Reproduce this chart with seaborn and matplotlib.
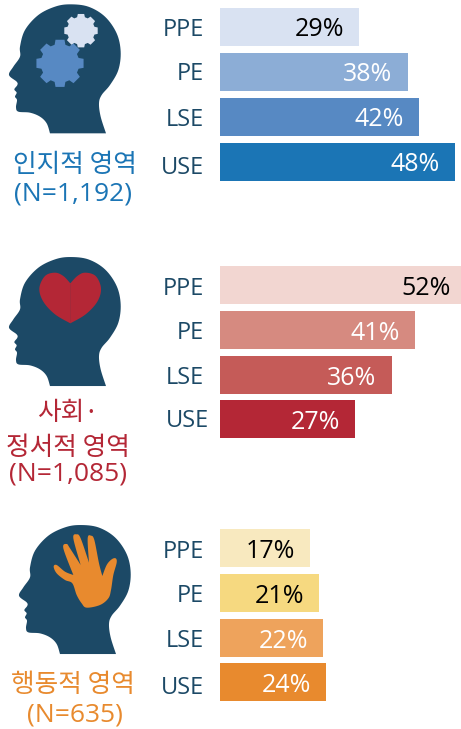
"""Three head icons with horizontal bars per learning-level group."""

import matplotlib

matplotlib.use("Agg")

import matplotlib.pyplot as plt
import numpy as np
import pandas as pd
import seaborn as sns
from matplotlib.patches import Polygon
from matplotlib.transforms import ScaledTranslation

LEVELS = ["PPE", "PE", "LSE", "USE"]

# shown percentages
cognitive_pct = [29, 38, 42, 48]
social_pct = [52, 41, 36, 27]
behavior_pct = [17, 21, 22, 24]

# drawn bar lengths (the bars are not to one scale)
cognitive_len = [139, 188, 199, 235]
social_len = [241, 195, 172, 135]
behavior_len = [90, 99, 103, 106]

BLUES = ["#d9e2f2", "#8cadd6", "#5789c3", "#1b75b5"]
REDS = ["#f2d6d1", "#d68a80", "#c55b58", "#b42736"]
ORANGES = ["#f8e9bf", "#f6d980", "#eea35c", "#e88a2e"]
NAVY = "#1c4966"

W, H = 461, 729
BAR_FONT = "Open Sans"
KR_FONT = "Noto Sans CJK KR"

# icon outlines in 3x crop pixels, a doubled point marks a sharp corner
HEAD = [
    (303, 400), (303, 400), (135, 400), (135, 400),
    (125, 370), (105, 350), (75, 338), (40, 335), (33, 322), (36, 300), (30, 290),
    (35, 278), (28, 268), (37, 255), (35, 245), (12, 225), (25, 200), (45, 170),
    (45, 140), (60, 90), (100, 45), (150, 20), (195, 13), (250, 20), (300, 50),
    (335, 100), (347, 155), (340, 210), (315, 255), (290, 285), (282, 310), (287, 350),
]

HEART = [
    (211, 100), (211, 100), (190, 78), (165, 68), (135, 78), (118, 115), (130, 155), (165, 193),
    (211, 220), (211, 220), (257, 193), (292, 155), (303, 115), (287, 78), (255, 68),
    (232, 78),
]

HAND = [
    (175, 165), (175, 165), (145, 85), (155, 72),
    (165, 85), (197, 135), (197, 135), (175, 55), (185, 43), (197, 55), (222, 128),
    (222, 128), (218, 55), (228, 47), (238, 60), (252, 130), (262, 168), (262, 168),
    (275, 135), (290, 118), (302, 115), (305, 128), (295, 165), (288, 210), (280, 235),
    (255, 255), (215, 263), (200, 250), (185, 225), (172, 190), (150, 180), (125, 160),
    (116, 140), (125, 135), (150, 155),
]


def smooth(points, steps=8):
    """Closed outline, Catmull-Rom between the doubled corner points."""
    pts = [np.array(p, dtype=float) for p in points]
    runs, run = [], [pts[0]]
    for p in pts[2:] + [pts[0]]:
        if np.array_equal(p, run[-1]):
            runs.append(run)
            run = [p]
        else:
            run.append(p)
    runs.append(run)

    out = []
    for run in runs:
        if len(run) < 2:
            continue
        ext = [run[0]] + run + [run[-1]]
        for i in range(1, len(ext) - 2):
            p0, p1, p2, p3 = ext[i - 1], ext[i], ext[i + 1], ext[i + 2]
            for t in np.linspace(0, 1, steps, endpoint=False):
                out.append(0.5 * (2 * p1 + (p2 - p0) * t + (2 * p0 - 5 * p1 + 4 * p2 - p3) * t**2
                                  + (3 * p1 - p0 - 3 * p2 + p3) * t**3))
    return np.array(out)


def gear_points(cx, cy, outer, inner, teeth=8):
    pts = []
    step = 2 * np.pi / teeth
    for i in range(teeth):
        a = i * step
        for off, r in [(-0.36, inner), (-0.24, outer), (0.24, outer), (0.36, inner)]:
            pts.append((cx + r * np.cos(a + off * step), cy + r * np.sin(a + off * step)))
    return np.array(pts)


def to_px(points, x0, y0):
    return points / 3 + np.array([x0, y0])


def draw_bars(fig, top, pitch, lengths, pct, colors, dark_count, shifts):
    height = pitch * 4
    ax = fig.add_axes([220 / W, 1 - (top + height) / H, 241 / W, height / H])
    df = pd.DataFrame({"level": LEVELS, "length": lengths})
    sns.barplot(data=df, y="level", x="length", hue="level", order=LEVELS, hue_order=LEVELS,
                palette=colors, saturation=1, width=38 / pitch, legend=False, linewidth=0, ax=ax)
    ax.set_xlim(0, 241)
    ax.set_ylim(3.5, -0.5)
    ax.set_xlabel("")
    ax.set_ylabel("")
    ax.set_xticks([])
    ax.tick_params(axis="y", length=0, pad=11.5, labelsize=17, labelcolor=NAVY)
    sns.despine(ax=ax, left=True, bottom=True)
    ax.patch.set_alpha(0)
    for label, (dx, dy) in zip(ax.get_yticklabels(), shifts):
        label.set_fontfamily(BAR_FONT)
        label.set_transform(label.get_transform()
                            + ScaledTranslation(dx / 100, -dy / 100, fig.dpi_scale_trans))
    for i, (length, value) in enumerate(zip(lengths, pct)):
        back = -35 if value == 52 else -40
        ax.annotate(f"{value}%", (length, i), xytext=(back * 0.72, -2.5),
                    textcoords="offset points", ha="center", va="center",
                    fontsize=18, family=BAR_FONT,
                    color="black" if i < dark_count else "white")


def main():
    sns.set_theme(style="white")
    fig = plt.figure(figsize=(W / 100, H / 100), dpi=100, facecolor="white")

    draw_bars(fig, 4, 45, cognitive_len, cognitive_pct, BLUES, 1,
              [(0, 1), (0, 0), (0, 0), (0, 3)])
    draw_bars(fig, 263, 44.7, social_len, social_pct, REDS, 1,
              [(0, 1), (0, 0), (0, 0), (5, -1)])
    draw_bars(fig, 526, 44.7, behavior_len, behavior_pct, ORANGES, 2,
              [(0, 1), (0, 0), (0, 0), (0, 3)])

    # icons and group names live on a pixel-sized overlay
    art = fig.add_axes([0, 0, 1, 1], zorder=-1)
    art.set_xlim(0, W)
    art.set_ylim(H, 0)
    art.axis("off")

    head = smooth(HEAD)
    for x0, y0 in [(5, 0), (5, 252.7), (15, 520.7)]:
        art.add_patch(Polygon(to_px(head, x0, y0), closed=True, fc=NAVY, ec="none"))

    art.add_patch(Polygon(to_px(gear_points(165, 190, 72, 58), 5, 0), closed=True,
                          fc="#5789c3", ec="none"))
    art.add_patch(Polygon(to_px(gear_points(228, 92, 51, 42), 5, 0), closed=True,
                          fc="#d9e2f2", ec="none"))
    art.add_patch(Polygon(to_px(smooth(HEART), 0, 250), closed=True, fc="#b42736", ec="none"))
    art.plot([70.3, 70.3], [284, 322], color="#a12a3a", lw=0.6)
    art.add_patch(Polygon(to_px(smooth(HAND), 15, 520), closed=True, fc="#e88a2e", ec="none"))

    group_text = [
        (75, 165, "인지적 영역", "#1b75b5", KR_FONT, 18.5),
        (73, 194, "(N=1,192)", "#1b75b5", BAR_FONT, 19),
        (68, 413, "사회·", "#b42736", KR_FONT, 18.5),
        (67.5, 448, "정서적 영역", "#b42736", KR_FONT, 18.5),
        (68, 474, "(N=1,085)", "#b42736", BAR_FONT, 19),
        (73, 685, "행동적 영역", "#e88a2e", KR_FONT, 18.5),
        (75, 715, "(N=635)", "#e88a2e", BAR_FONT, 19),
    ]
    for x, y, text, color, family, size in group_text:
        art.text(x, y, text, color=color, family=family, fontsize=size, ha="center", va="center")

    fig.savefig("out.png", dpi=100)


if __name__ == "__main__":
    main()
